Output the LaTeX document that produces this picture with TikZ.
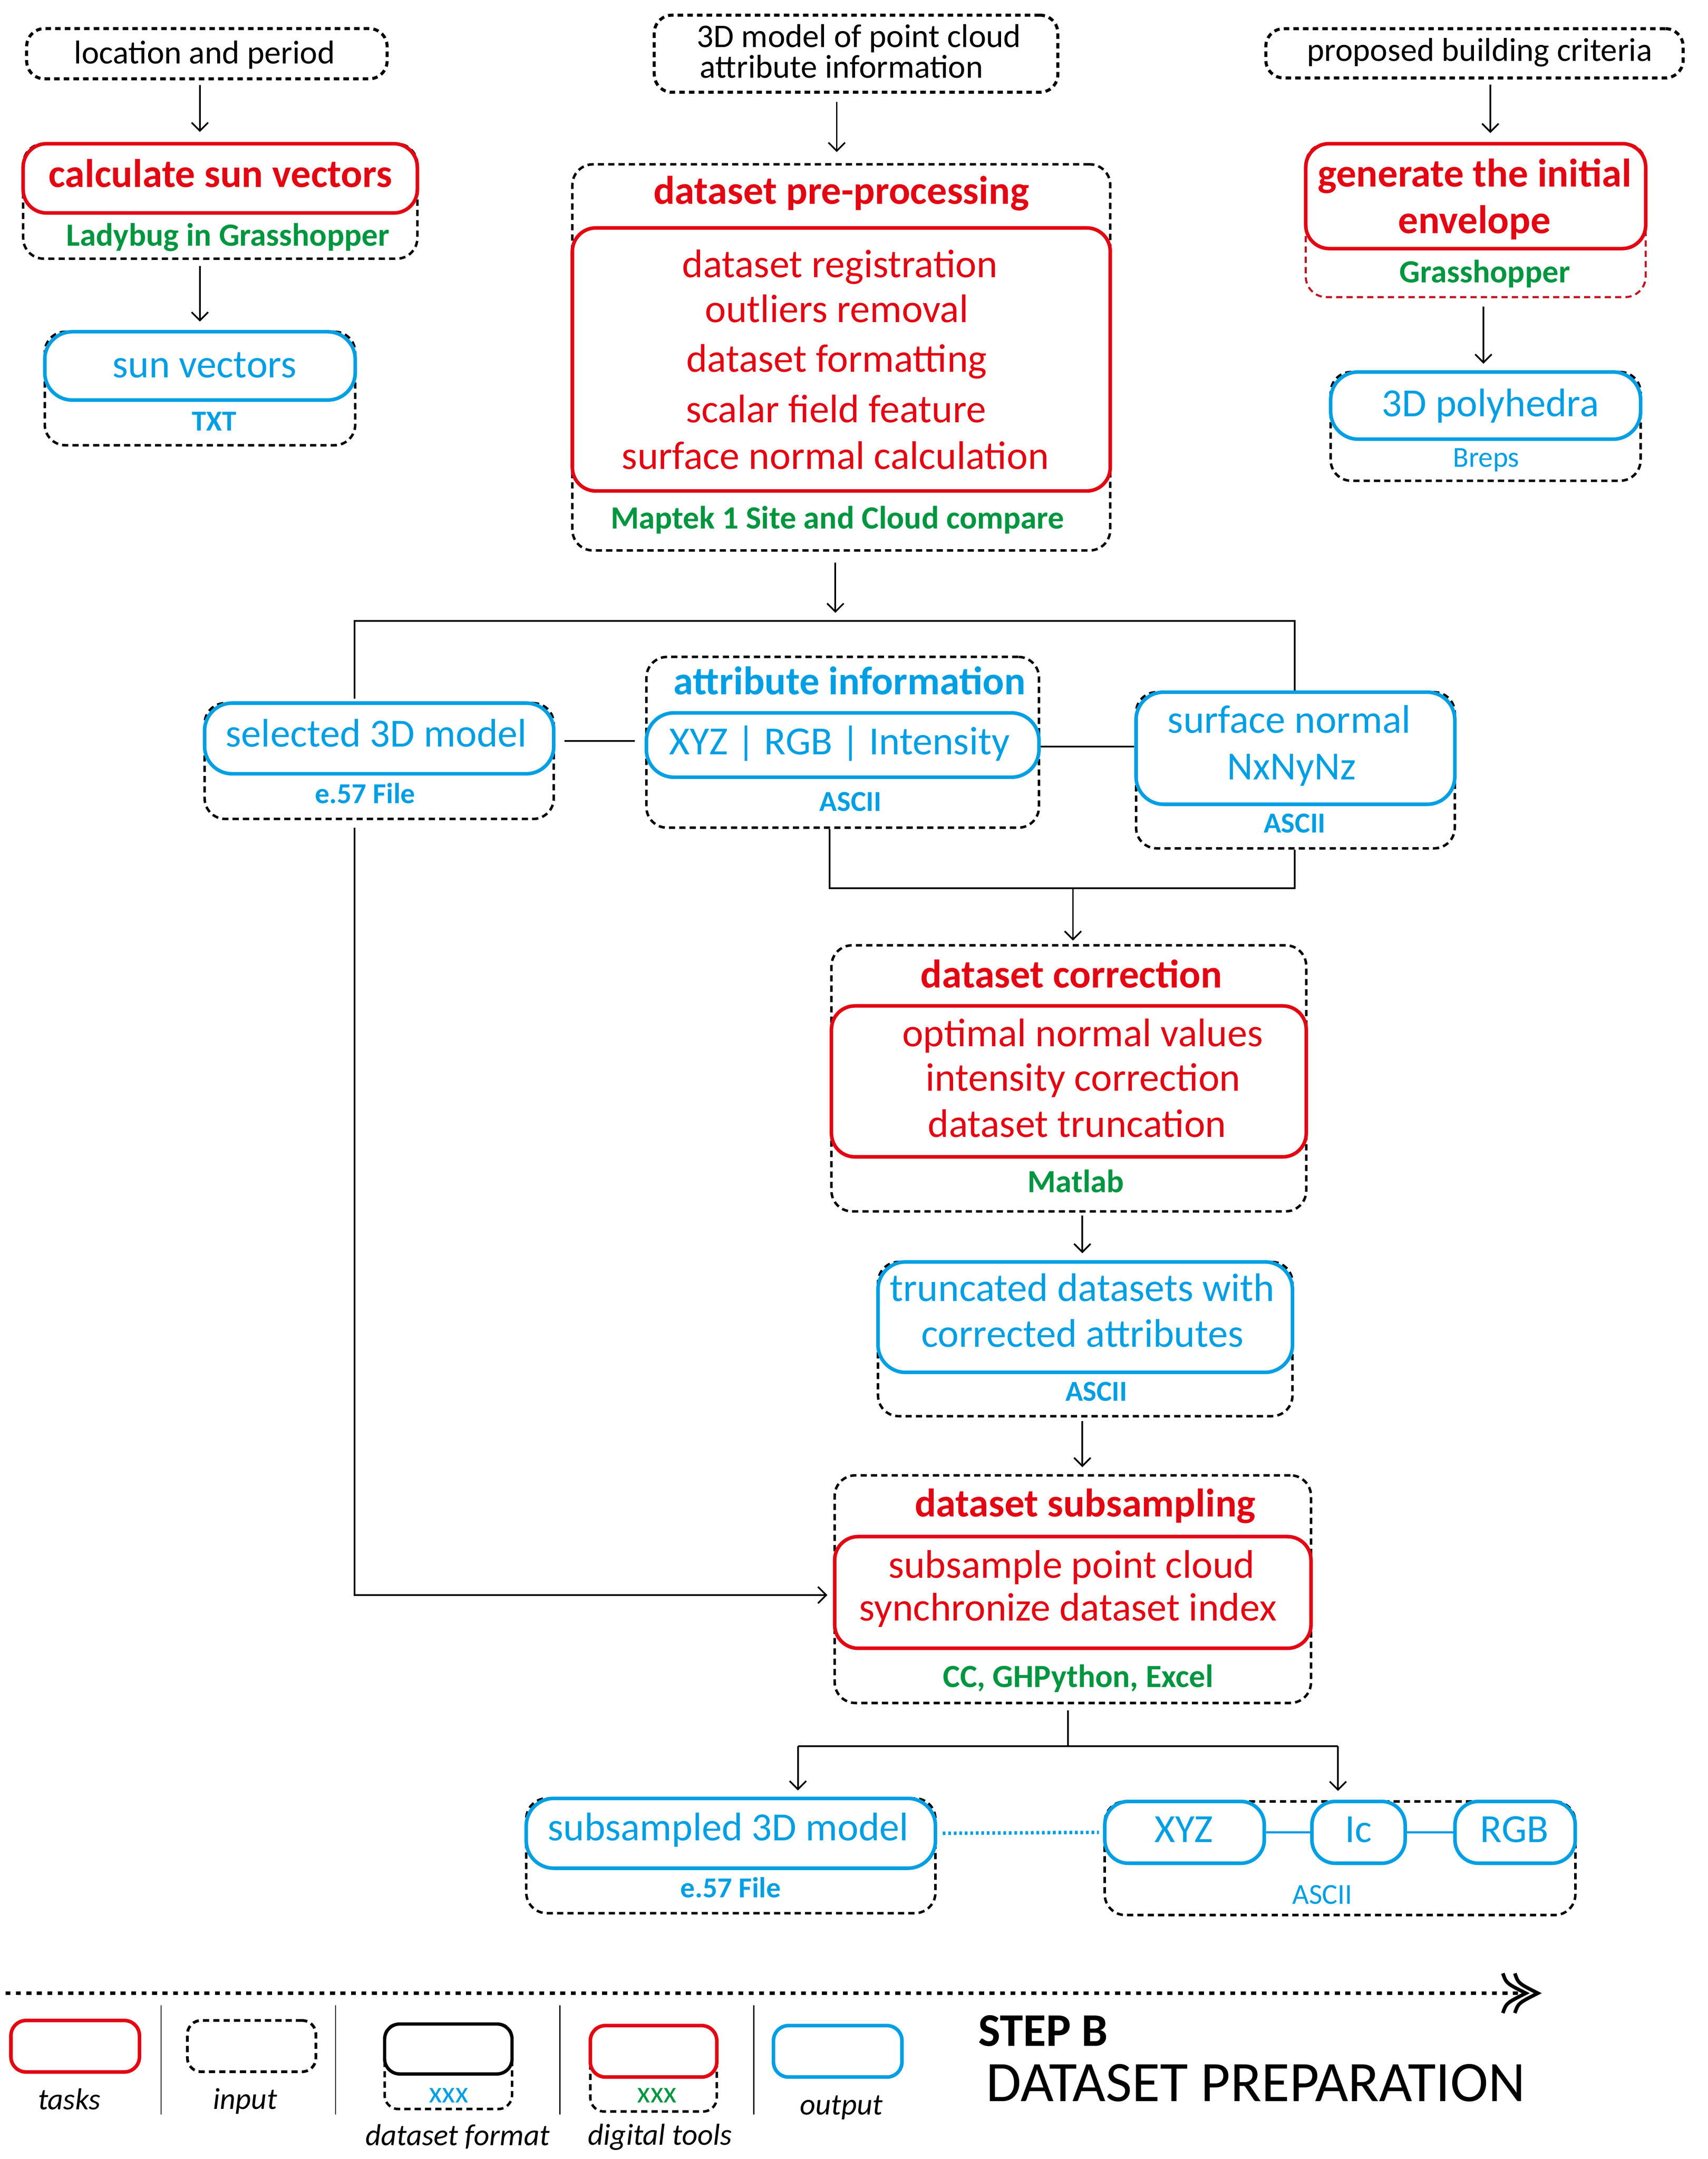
\documentclass[tikz,border=0pt]{standalone}
\usepackage{fontspec}
\setmainfont{Carlito}
\usetikzlibrary{arrows.meta}
\definecolor{cred}{HTML}{E30613}
\definecolor{cblue}{HTML}{009FE3}
\definecolor{cgreen}{HTML}{009640}
\definecolor{cdred}{HTML}{BE1622}
\tikzset{
  inbox/.style={draw, line width=2.2pt, dash pattern=on 4pt off 3pt, rounded corners=13pt, inner sep=0pt},
  cont/.style={draw, line width=1.8pt, dash pattern=on 4.5pt off 3pt, rounded corners=15pt, inner sep=0pt},
  taskbox/.style={draw=cred, line width=2.6pt, rounded corners=17pt, fill=white, inner sep=0pt},
  outbox/.style={draw=cblue, line width=2.6pt, rounded corners=20pt, fill=white, inner sep=0pt},
  txt/.style={inner sep=0pt, anchor=base},
  intxt/.style={txt, font=\fontsize{24}{26}\selectfont},
  ttl/.style={txt, font=\fontsize{29}{31}\selectfont\bfseries, text=cred},
  attl/.style={txt, font=\fontsize{29}{31}\selectfont\bfseries, text=cblue},
  item/.style={txt, font=\fontsize{29}{31}\selectfont, text=cred},
  tool/.style={txt, font=\fontsize{23.5}{26}\selectfont\bfseries, text=cgreen},
  otxt/.style={txt, font=\fontsize{29}{31}\selectfont, text=cblue},
  ftxt/.style={txt, font=\fontsize{21}{23}\selectfont\bfseries, text=cblue},
  frtxt/.style={txt, font=\fontsize{21}{23}\selectfont, text=cblue},
  lgtxt/.style={txt, font=\fontsize{22}{24}\selectfont\itshape},
  xxtxt/.style={txt, font=\fontsize{22}{24}\selectfont},
  arr/.style={line width=1.2pt, -{Straight Barb[length=6pt,width=12pt]}},
  conn/.style={line width=1.3pt},
}
\begin{document}
\begin{tikzpicture}[x=1pt,y=-1pt]
\fill[white] (0,0) rectangle (1240,1567.7);
\useasboundingbox (0,0) rectangle (1240,1567.7);

% ---------- top left ----------
\node[inbox, minimum width=261.7pt, minimum height=36.5pt] (in1) at (150.2,39) {};
\node[intxt] (in1t) at (148.5,46.3) {location and period};
\node[cont, minimum width=286.2pt, minimum height=83.5pt] (tl1c) at (159.9,146.1) {};
\node[taskbox, minimum width=286.2pt, minimum height=50.3pt] (task1) at (159.9,129.5) {};
\node[ttl] (task1t) at (160,135.9) {calculate sun vectors};
\node[tool] (tl1t) at (165.5,178.7) {Ladybug in Grasshopper};
\node[cont, minimum width=225.4pt, minimum height=82.4pt] (fmt1) at (145.2,282.1) {};
\node[outbox, minimum width=225.4pt, minimum height=49.6pt] (out1) at (145.2,265.7) {};
\node[otxt] (out1t) at (148.5,274.1) {sun vectors};
\node[ftxt] (fmt1t) at (155.5,312.8) {TXT};
\coordinate (xA) at (145.1,0);
\draw[arr, shorten <=3.5pt, shorten >=7.2pt] (in1.south -| xA) -- (task1.north -| xA);
\draw[arr, shorten <=4.3pt, shorten >=6.1pt] (tl1c.south -| xA) -- (out1.north -| xA);

% ---------- top middle ----------
\node[inbox, minimum width=293pt, minimum height=56pt] (in2) at (621.5,39) {};
\node[intxt] (in2a) at (623.6,34.3) {3D model of point cloud};
\node[intxt] (in2b) at (611,56.6) {attribute information};
\node[cont, minimum width=390.5pt, minimum height=280.4pt] (prec) at (610.8,259.5) {};
\node[taskbox, minimum width=390.5pt, minimum height=191pt] (pre) at (610.8,261) {};
\node[ttl] (pret) at (610.8,148) {dataset pre-processing};
\node[item] (p1) at (609.8,201.3) {dataset registration};
\node[item] (p2) at (607.5,234) {outliers removal};
\node[item] (p3) at (607.4,270) {dataset formatting};
\node[item] (p4) at (607,306.7) {scalar field feature};
\node[item] (p5) at (606.5,340.7) {surface normal calculation};
\node[tool] (pretool) at (608,384) {Maptek 1 Site and Cloud compare};
\coordinate (xB) at (607.5,0);
\draw[arr, shorten <=6pt, shorten >=8pt] (in2.south -| xB) -- (prec.north -| xB);

% ---------- top right ----------
\node[inbox, minimum width=303pt, minimum height=35.8pt] (in3) at (1070.5,38.7) {};
\node[intxt] (in3t) at (1074.3,44.3) {proposed building criteria};
\node[cont, draw=cdred, line width=1.5pt, minimum width=246.8pt, minimum height=111.5pt] (tl3c) at (1071.4,160) {};
\node[taskbox, minimum width=246.8pt, minimum height=76.2pt] (task3) at (1071.4,142.4) {};
\node[ttl] (task3a) at (1070.6,135.6) {generate the initial};
\node[ttl] (task3b) at (1070.5,169.4) {envelope};
\node[tool] (tl3t) at (1078,205.2) {Grasshopper};
\node[cont, minimum width=225pt, minimum height=79pt] (fmt3) at (1078.6,309.6) {};
\node[outbox, minimum width=225pt, minimum height=48.8pt] (out3) at (1078.6,294.5) {};
\node[otxt] (out3t) at (1082,302.4) {3D polyhedra};
\node[frtxt] (fmt3t) at (1079,339) {Breps};
\coordinate (xC) at (1082,0);
\coordinate (xD) at (1077,0);
\draw[arr, shorten <=3.6pt, shorten >=6.4pt] (in3.south -| xC) -- (task3.north -| xC);
\draw[arr, shorten <=6pt, shorten >=4.7pt] (tl3c.south -| xD) -- (out3.north -| xD);

% ---------- middle row ----------
\node[cont, minimum width=253.5pt, minimum height=84.1pt] (selc) at (275.3,552.6) {};
\node[outbox, minimum width=253.5pt, minimum height=51.3pt] (sel) at (275.3,536.2) {};
\node[otxt] (selt) at (273.2,542.4) {selected 3D model};
\node[ftxt] (self) at (265,583.3) {e.57 File};

\node[cont, minimum width=285pt, minimum height=124pt] (attr) at (611.8,539) {};
\node[attl] (attrt) at (616.8,504.4) {attribute information};
\node[outbox, minimum width=285pt, minimum height=46.7pt] (xyz) at (611.8,541) {};
\node[otxt] (xyzt) at (609.5,547.9) {XYZ | RGB | Intensity};
\node[ftxt] (attrf) at (617.5,589) {ASCII};

\node[cont, minimum width=231.4pt, minimum height=113.4pt] (snc) at (940.5,559.3) {};
\node[outbox, minimum width=231.4pt, minimum height=81.4pt] (sn) at (940.5,543.3) {};
\node[otxt] (sna) at (936,532.3) {surface normal};
\node[otxt] (snb) at (937.7,566.2) {NxNyNz};
\node[ftxt] (snf) at (940,604.7) {ASCII};

\coordinate (hL) at (257.4,451);
\coordinate (hR) at (940,451);
\coordinate (xE) at (606.5,0);
\draw[arr, shorten <=8pt, shorten >=6pt] (prec.south -| xE) -- (hL -| xE);
\draw[conn, shorten <=2pt] (sel.north -| hL) -- (hL) -- (hR) -- (sn.north -| hR);
\coordinate (yS) at (0,538);
\draw[conn, shorten <=6.3pt, shorten >=7.6pt] (sel.east |- yS) -- (attr.west |- yS);
\coordinate (yX) at (0,542.1);
\draw[conn] (xyz.east |- yX) -- (sn.west |- yX);

\coordinate (jn) at (779,645);
\coordinate (xF) at (602.3,0);
\draw[conn] (attr.south -| xF) -- (jn -| xF) -- (jn -| hR) -- (snc.south -| hR);

% ---------- correction ----------
\node[cont, minimum width=344.7pt, minimum height=193.2pt] (corr) at (776,783) {};
\node[taskbox, minimum width=344.7pt, minimum height=109.6pt] (corrT) at (776,785.2) {};
\node[ttl] (corrt) at (777.8,717.2) {dataset correction};
\node[item] (c1) at (786,759.7) {optimal normal values};
\node[item] (c2) at (786.3,792.3) {intensity correction};
\node[item] (c3) at (782,825.8) {dataset truncation};
\node[tool] (corrtool) at (781,865.7) {Matlab};
\draw[arr, shorten >=2.5pt] (jn) -- (jn |- corr.north);

\node[cont, minimum width=300.9pt, minimum height=112pt] (truncc) at (787.9,972.3) {};
\node[outbox, minimum width=300.9pt, minimum height=80.2pt] (trunc) at (787.9,956.4) {};
\node[otxt] (tra) at (785.7,944.7) {truncated datasets with};
\node[otxt] (trb) at (785.9,978.2) {corrected attributes};
\node[ftxt] (trf) at (796,1017.3) {ASCII};
\coordinate (xG) at (785.8,0);
\draw[arr, shorten <=2pt, shorten >=5pt] (corr.south -| xG) -- (trunc.north -| xG);

% ---------- subsampling ----------
\node[cont, minimum width=345.8pt, minimum height=165.3pt] (sub) at (778.9,1153.9) {};
\node[taskbox, minimum width=345.8pt, minimum height=81.1pt] (subT) at (778.9,1156.3) {};
\node[ttl] (subt) at (787.8,1101.4) {dataset subsampling};
\node[item] (s1) at (778,1145.7) {subsample point cloud};
\node[item] (s2) at (775.4,1177) {synchronize dataset index};
\node[tool] (subtool) at (782.8,1225.2) {CC, GHPython, Excel};
\draw[arr, shorten <=2.5pt, shorten >=5pt] (truncc.south -| xG) -- (sub.north -| xG);
\coordinate (yE) at (0,1158.2);
\draw[arr, shorten <=5.5pt, shorten >=4pt] (selc.south -| hL) -- (hL |- yE) -- (subT.west |- yE);

% ---------- outputs ----------
\node[cont, minimum width=297.1pt, minimum height=83.4pt] (ssmc) at (530.6,1347.5) {};
\node[outbox, minimum width=297.1pt, minimum height=50.7pt] (ssm) at (530.6,1331.2) {};
\node[otxt] (ssmt) at (528.7,1336.5) {subsampled 3D model};
\node[ftxt] (ssmf) at (530.5,1377.8) {e.57 File};

\node[cont, minimum width=341.7pt, minimum height=82.5pt] (grp) at (972.9,1349.3) {};
\node[outbox, rounded corners=17pt, minimum width=115.8pt, minimum height=44.9pt] (bxyz) at (860,1330.5) {};
\node[outbox, rounded corners=17pt, minimum width=67.7pt, minimum height=44.9pt] (bic) at (986.3,1330.5) {};
\node[outbox, rounded corners=17pt, minimum width=87.3pt, minimum height=44.9pt] (brgb) at (1100,1330.5) {};
\node[otxt] (bxyzt) at (859.4,1337.6) {XYZ};
\node[otxt] (bict) at (986.3,1337.6) {Ic};
\node[otxt] (brgbt) at (1099.5,1337.6) {RGB};
\node[frtxt] (grpf) at (960,1382.4) {ASCII};
\draw[cblue, line width=1.3pt] (bxyz.east) -- (bic.west);
\draw[cblue, line width=1.3pt] (bic.east) -- (brgb.west);
\draw[cblue, line width=2.5pt, dash pattern=on 2pt off 2pt, shorten <=4pt, shorten >=3pt] (ssm.east) -- (bxyz.west);

\coordinate (jb) at (775.3,1268);
\coordinate (xH) at (579.3,0);
\coordinate (xI) at (971.4,0);
\draw[conn, shorten <=4.5pt] (sub.south -| jb) -- (jb);
\draw[conn] (jb -| xH) -- (jb -| xI);
\draw[arr, shorten >=4.5pt] (jb -| xH) -- (ssm.north -| xH);
\draw[arr, shorten >=6.7pt] (jb -| xI) -- (grp.north -| xI);

% ---------- legend ----------
\coordinate (tl0) at (4,1447.3);
\coordinate (tl1) at (1104,1447.3);
\draw[line width=2.5pt, dash pattern=on 3.6pt off 4pt] (tl0) -- (tl1);
\draw[line width=2.6pt] (1091.1,1432.9) .. controls (1093.6,1440.1) .. (1107.8,1447.3) .. controls (1093.6,1454.5) .. (1091.1,1461.7);
\draw[line width=2.6pt] (1099.8,1432.9) .. controls (1102.3,1440.1) .. (1116.5,1447.3) .. controls (1102.3,1454.5) .. (1099.8,1461.7);

\foreach \sx in {117,243.6,406.5,547.2} \draw[line width=0.8pt] (\sx,1456) -- (\sx,1535.5);

\node[taskbox, rounded corners=11pt, minimum width=93.3pt, minimum height=37.4pt] (lgT) at (54.6,1485.8) {};
\node[lgtxt] (lgTt) at (50.3,1531.9) {tasks};
\node[cont, line width=2pt, rounded corners=10pt, minimum width=93.3pt, minimum height=37.2pt] (lgI) at (182.7,1485.7) {};
\node[lgtxt] (lgIt) at (178,1531.4) {input};
\node[cont, rounded corners=10pt, minimum width=92.5pt, minimum height=61.8pt] (lgFc) at (325.5,1500.5) {};
\node[draw, line width=2.4pt, fill=white, rounded corners=11pt, inner sep=0pt, minimum width=92.5pt, minimum height=36.3pt] (lgF) at (325.5,1487.8) {};
\node[xxtxt, text=cblue] (lgFx) at (325.8,1526.8) {xxx};
\node[lgtxt] (lgFt) at (332.2,1557.9) {dataset format};
\node[cont, rounded corners=10pt, minimum width=91.8pt, minimum height=62.4pt] (lgDc) at (474.5,1502) {};
\node[taskbox, rounded corners=11pt, minimum width=91.8pt, minimum height=37.4pt] (lgD) at (474.5,1489.5) {};
\node[xxtxt, text=cgreen] (lgDx) at (477,1526.8) {xxx};
\node[lgtxt] (lgDt) at (479.2,1557.4) {digital tools};
\node[outbox, rounded corners=11pt, minimum width=93.3pt, minimum height=37.4pt] (lgO) at (608.2,1489.5) {};
\node[lgtxt] (lgOt) at (610.9,1535.5) {output};

\node[anchor=base west, inner sep=0pt, font=\fontsize{34}{36}\selectfont\bfseries] (stepb) at (710,1485.8) {STEP B};
\node[anchor=base west, inner sep=0pt, font=\fontsize{41.6}{43}\selectfont] (stepname) at (715.7,1525.8) {DATASET PREPARATION};
\end{tikzpicture}
\end{document}
